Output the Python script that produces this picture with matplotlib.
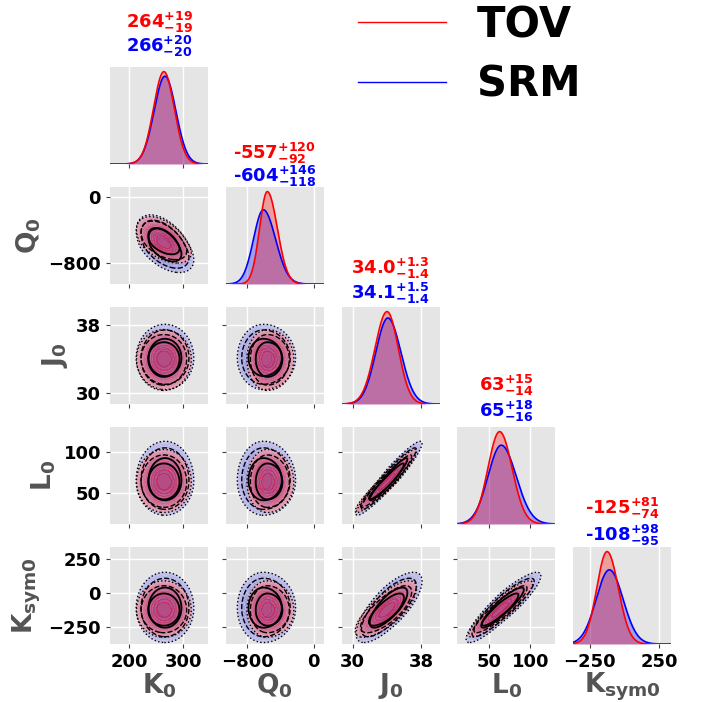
import numpy as np
import matplotlib.pyplot as plt
from matplotlib.lines import Line2D
from matplotlib.colors import LinearSegmentedColormap

plt.rcParams['font.family'] = ['DejaVu Sans']
plt.rcParams['font.weight'] = 'bold'
plt.rcParams['mathtext.fontset'] = 'dejavusans'
plt.rcParams['mathtext.default'] = 'bf'

labels = [r'$K_0$', r'$Q_0$', r'$J_0$', r'$L_0$', r'$K_{sym0}$']
decimals = [0, 0, 1, 0, 0]

tov_med = [264, -557, 34.0, 63, -125]
tov_up = [19, 120, 1.3, 15, 81]
tov_dn = [19, 92, 1.4, 14, 74]

srm_med = [266, -604, 34.1, 65, -108]
srm_up = [20, 146, 1.5, 18, 98]
srm_dn = [20, 118, 1.4, 16, 95]

# pairwise correlations estimated from the contour tilt
corr = [[1.0, -0.5, 0.0, 0.0, 0.0],
        [-0.5, 1.0, 0.0, 0.0, 0.0],
        [0.0, 0.0, 1.0, 0.95, 0.75],
        [0.0, 0.0, 0.95, 1.0, 0.9],
        [0.0, 0.0, 0.75, 0.9, 1.0]]

lims = [(165, 345), (-1055, 120), (28.7, 40.1), (12, 130), (-370, 335)]
xticks = [[200, 300], [-800, 0], [30, 38], [50, 100], [-250, 250]]
yticks = [[200, 300], [-800, 0], [30, 38], [50, 100], [-250, 0, 250]]

# title offsets above each diagonal panel (pixels)
blue_off = [21, 11, 14, 16, 12]
red_off = [45, 34, 39, 42, 39]

W, H = 707, 702
fig = plt.figure(figsize=(W / 100, H / 100), dpi=100)

cm_red = LinearSegmentedColormap.from_list('r', ['#c0104a', '#f0a8b4'])
cm_blue = LinearSegmentedColormap.from_list('b', ['#5050c8', '#b8b8f2'])


def u_of(x, med, up, dn):
    return np.where(x > med, (x - med) / up, (x - med) / dn)


def pdf1(x, med, up, dn):
    u = u_of(x, med, up, dn)
    return 2 / (np.sqrt(2 * np.pi) * (up + dn)) * np.exp(-0.5 * u ** 2)


def d2(X, Y, i, j, med, up, dn):
    ux = u_of(X, med[j], up[j], dn[j])
    uy = u_of(Y, med[i], up[i], dn[i])
    rho = corr[i][j]
    return (ux ** 2 - 2 * rho * ux * uy + uy ** 2) / (1 - rho ** 2)


def fmt(v, d):
    return f'{v:.{d}f}'


for r in range(5):
    for c in range(r + 1):
        left = 110 + 115.75 * c
        top = 67 + 120 * r
        ax = fig.add_axes([left / W, 1 - (top + 97) / H, 98 / W, 97 / H])
        ax.set_facecolor('#e5e5e5')
        for s in ax.spines.values():
            s.set_visible(False)
        ax.set_axisbelow(True)
        ax.grid(True, color='white', lw=1.0)

        if r == c:
            x = np.linspace(lims[c][0], lims[c][1], 500)
            pr = pdf1(x, tov_med[c], tov_up[c], tov_dn[c])
            pb = pdf1(x, srm_med[c], srm_up[c], srm_dn[c])
            ax.fill_between(x, pb, color='blue', alpha=0.3, lw=0)
            ax.fill_between(x, pr, color='red', alpha=0.3, lw=0)
            ax.plot(x, pb, color='blue', lw=1.2)
            ax.plot(x, pr, color='red', lw=1.2)
            ax.set_ylim(0, 1.05 * max(pr.max(), pb.max()))
            ax.set_yticks([])
            d = decimals[c]
            ax.annotate(f'{fmt(srm_med[c], d)}$^{{+{fmt(srm_up[c], d)}}}_{{-{fmt(srm_dn[c], d)}}}$',
                        (0.5, 1.0), xycoords='axes fraction',
                        xytext=(0, blue_off[c] * 0.72), textcoords='offset points',
                        ha='center', va='center', color='blue', fontsize=13, fontweight='bold')
            ax.annotate(f'{fmt(tov_med[c], d)}$^{{+{fmt(tov_up[c], d)}}}_{{-{fmt(tov_dn[c], d)}}}$',
                        (0.5, 1.0), xycoords='axes fraction',
                        xytext=(0, red_off[c] * 0.72), textcoords='offset points',
                        ha='center', va='center', color='red', fontsize=13, fontweight='bold')
        else:
            xs = np.linspace(lims[c][0], lims[c][1], 250)
            ys = np.linspace(lims[r][0], lims[r][1], 250)
            X, Y = np.meshgrid(xs, ys)
            Db = d2(X, Y, r, c, srm_med, srm_up, srm_dn)
            Dr = d2(X, Y, r, c, tov_med, tov_up, tov_dn)
            lv = np.linspace(0, 7.0, 15)
            ax.contourf(X, Y, Db, levels=lv, cmap=cm_blue, alpha=0.45)
            ax.contourf(X, Y, Dr, levels=lv, cmap=cm_red, alpha=0.6)
            for D in (Db, Dr):
                ax.contour(X, Y, D, levels=[2.28, 4.84, 7.0], colors='k',
                           linestyles=['solid', 'dashed', 'dotted'], linewidths=[1.3, 1.0, 1.0])
            ax.set_ylim(lims[r])
            ax.set_yticks(yticks[r])

        ax.set_xlim(lims[c])
        ax.set_xticks(xticks[c])
        ax.tick_params(direction='out', length=3, width=0.8, color='0.25', labelsize=13)

        if r == 4:
            ax.set_xlabel(labels[c], fontsize=19, color='0.33', fontweight='bold', labelpad=0)
        else:
            ax.set_xticklabels([])
        if c == 0 and r > 0:
            ax.set_ylabel(labels[r], fontsize=19, color='0.33', fontweight='bold', labelpad=4)
        else:
            ax.set_yticklabels([])
        for t in ax.get_xticklabels() + ax.get_yticklabels():
            t.set_fontweight('bold')

handles = [Line2D([], [], color='red', lw=1.0), Line2D([], [], color='blue', lw=1.0)]
leg = fig.legend(handles, ['TOV', 'SRM'], loc='upper left', bbox_to_anchor=(358 / W, 1 - 4 / H),
                 frameon=False, borderpad=0, borderaxespad=0, handlelength=2.1, handletextpad=0.75,
                 labelspacing=0.42, prop={'size': 30, 'weight': 'bold'})

fig.savefig('out.png', dpi=100)
